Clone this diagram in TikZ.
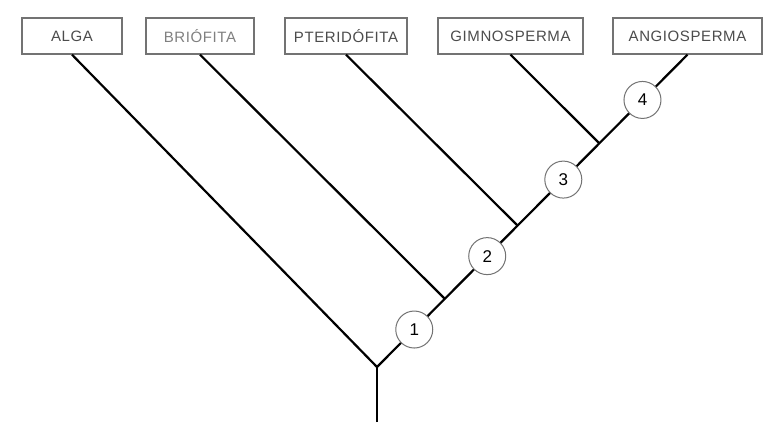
\documentclass[tikz,border=0pt]{standalone}
\usepackage{fontspec}
\setmainfont{Liberation Sans}
\begin{document}
\begin{tikzpicture}[x=1pt,y=-1pt,
  taxon/.style={draw=black!55,line width=1.3pt,fill=white,minimum height=36pt,inner sep=0pt,
    text=black!70,font=\fontsize{15}{18}\selectfont\addfontfeature{LetterSpace=4}},
  branch/.style={line width=2.2pt,black},
  node num/.style={circle,draw=black!55,line width=1pt,fill=white,minimum size=37pt,inner sep=0pt,
    font=\fontsize{17}{18}\selectfont,text=black}]
\useasboundingbox[fill=white] (0,0) rectangle (774,442);
\node[taxon,minimum width=100pt] (alga) at (72,36) {ALGA};
\node[taxon,minimum width=108pt,text=black!50] (brio) at (200,36) {BRIÓFITA};
\node[taxon,minimum width=122pt] (pter) at (346,36) {PTERIDÓFITA};
\node[taxon,minimum width=145pt] (gimno) at (510.5,36) {GIMNOSPERMA};
\node[taxon,minimum width=149pt] (angio) at (687.5,36) {ANGIOSPERMA};
\coordinate (root) at (377,367);
\coordinate (base) at (377,422);
\coordinate (j1) at (444.6,298.6);
\coordinate (j2) at (517.3,225.3);
\coordinate (j3) at (598.9,142.9);
\draw[branch] (base) -- (root);
\draw[branch] (alga.south) -- (root);
\draw[branch] (brio.south) -- (j1);
\draw[branch] (pter.south) -- (j2);
\draw[branch] (gimno.south) -- (j3);
\draw[branch] (root) -- (angio.south)
  node[node num,pos=0.12] (n1) {1}
  node[node num,pos=0.355] (n2) {2}
  node[node num,pos=0.6] (n3) {3}
  node[node num,pos=0.855] (n4) {4};
\end{tikzpicture}
\end{document}
